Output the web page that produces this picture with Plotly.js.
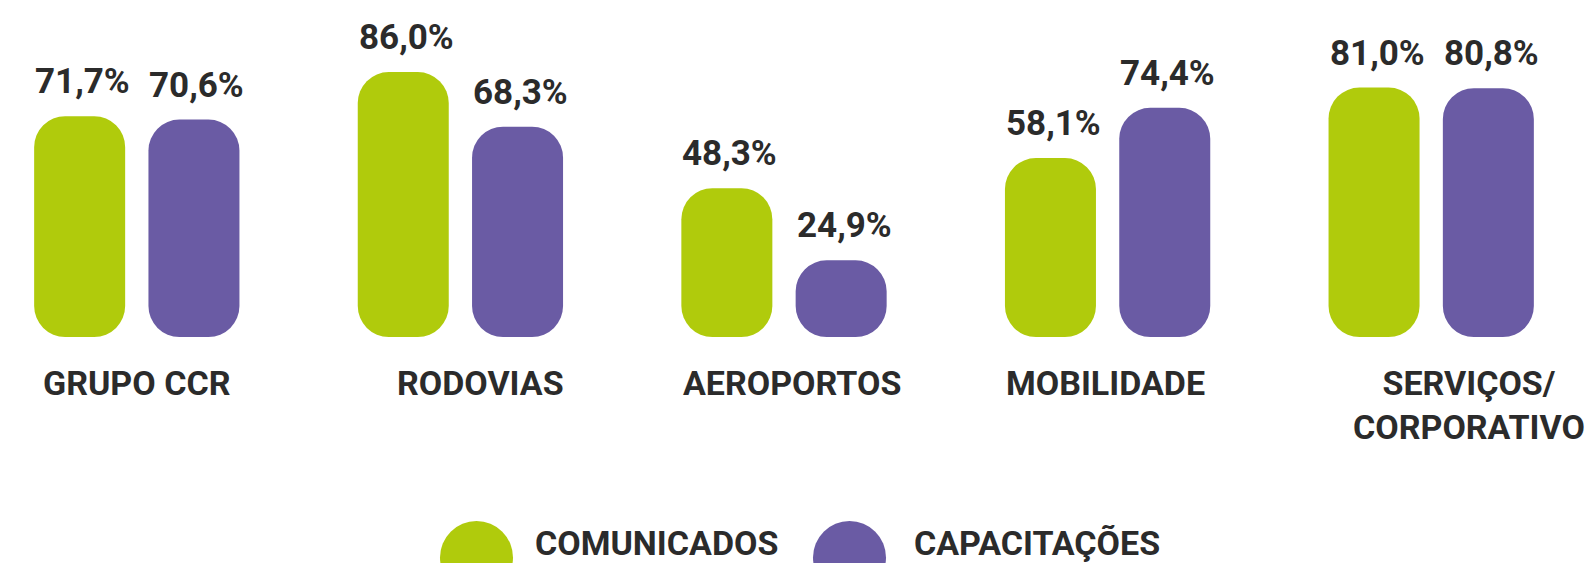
<!DOCTYPE html>
<html><head><meta charset="utf-8">
<script src="https://cdn.plot.ly/plotly-3.0.1.min.js"></script>
<style>html,body{margin:0;padding:0;background:#fff;} #chart{width:1586px;height:563px;}</style>
</head><body><div id="chart"></div>
<script>
// ---- data ----
const categories = ["GRUPO CCR", "RODOVIAS", "AEROPORTOS", "MOBILIDADE", "SERVIÇOS/<br>CORPORATIVO"];
const comunicados = [71.7, 86.0, 48.3, 58.1, 81.0];
const capacitacoes = [70.6, 68.3, 24.9, 74.4, 80.8];
const seriesNames = ["COMUNICADOS", "CAPACITAÇÕES"];

// ---- layout constants ----
const W = 1586, H = 563, mT = 20, mB = 226;
const GREEN = '#B0CB0C', PURPLE = '#6A5BA4', TEXT = '#2B2B2B';
const FONT = 'Roboto, "DejaVu Sans", sans-serif';
const pxPerUnit = 323.6;
const xStart = -136.8 / pxPerUnit;
const xEnd = xStart + W / pxPerUnit;
const pxPerPct = 3.08;
const plotH = H - mT - mB;
const yMax = plotH / pxPerPct;
const slot = 0.3532, barW = 0.2812, RADIUS = 31;
const offsets = [-slot / 2 - barW / 2, slot / 2 - barW / 2];
const labelNudge = [0, 20, 8, -2, 38];   // horizontal nudge (px) of category labels
const fmt = v => v.toFixed(1).replace('.', ',') + '%';
const py = p => (H - mB - p) / plotH;
const pxp = p => p / W;

const series = [comunicados, capacitacoes];
const colors = [GREEN, PURPLE];
// an explicit base makes Plotly round both ends of each bar
const traces = series.map((vals, s) => ({
  type: 'bar', x: categories, y: vals, base: vals.map(() => 0),
  width: barW, offset: offsets[s], name: seriesNames[s], showlegend: false, hoverinfo: 'skip',
  marker: {color: colors[s], cornerradius: RADIUS, line: {width: 0}}
}));

const annotations = [];
series.forEach((vals, s) => {
  vals.forEach((v, i) => {
    annotations.push({
      x: categories[i], y: v, xref: 'x', yref: 'y', text: fmt(v), showarrow: false,
      xanchor: 'center', yanchor: 'bottom',
      xshift: (offsets[s] + barW / 2) * pxPerUnit + 3, yshift: 12,
      font: {family: FONT, size: 35, color: TEXT, weight: 700}
    });
  });
});

// category labels
categories.forEach((c, i) => {
  annotations.push({
    x: c, y: 0, xref: 'x', yref: 'y', text: c, showarrow: false,
    xanchor: 'center', yanchor: 'top', yshift: -24, xshift: labelNudge[i],
    font: {family: FONT, size: 34, color: TEXT, weight: 700}
  });
});

// legend
const legendCircleX = [440, 813], legendTextX = [533, 912];
const shapes = [];
seriesNames.forEach((n, s) => {
  shapes.push({
    type: 'circle', xref: 'paper', yref: 'paper',
    x0: pxp(legendCircleX[s]), x1: pxp(legendCircleX[s] + 73),
    y0: py(594), y1: py(521), fillcolor: colors[s], line: {width: 0}, layer: 'above'
  });
  annotations.push({
    x: pxp(legendTextX[s]), y: py(543), xref: 'paper', yref: 'paper', text: n, showarrow: false,
    xanchor: 'left', yanchor: 'middle',
    font: {family: FONT, size: 34, color: TEXT, weight: 700}
  });
});

const layout = {
  width: W, height: H,
  margin: {l: 0, r: 0, t: mT, b: mB, pad: 0},
  paper_bgcolor: '#ffffff', plot_bgcolor: '#ffffff',
  barmode: 'overlay', showlegend: false,
  xaxis: {
    type: 'category', range: [xStart, xEnd], showgrid: false, zeroline: false, showline: false,
    ticks: '', showticklabels: false
  },
  yaxis: {range: [0, yMax], visible: false, showgrid: false, zeroline: false},
  annotations: annotations, shapes: shapes
};

Plotly.newPlot('chart', traces, layout, {displayModeBar: false, staticPlot: true});
</script>
</body></html>
